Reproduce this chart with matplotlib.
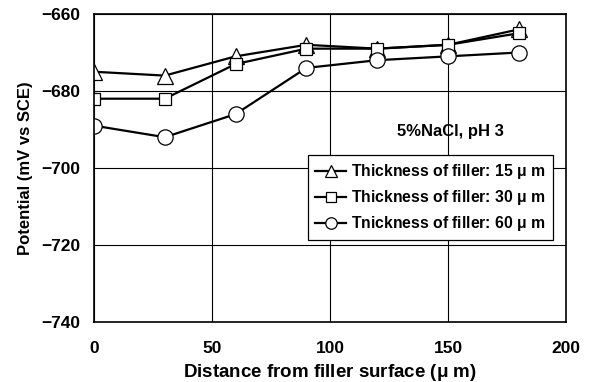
import matplotlib
matplotlib.use('Agg')
import matplotlib.pyplot as plt

distance = [0, 30, 60, 90, 120, 150, 180]
pot_15 = [-675, -676, -671, -668, -669, -668, -664]
pot_30 = [-682, -682, -673, -669, -669, -668, -665]
pot_60 = [-689, -692, -686, -674, -672, -671, -670]
labels = ['Thickness of filler: 15 $\\mu$ m',
          'Thickness of filler: 30 $\\mu$ m',
          'Tnickness of filler: 60 $\\mu$ m']

plt.rcParams['font.family'] = ['Liberation Sans', 'DejaVu Sans']
plt.rcParams['font.weight'] = 'bold'
plt.rcParams['axes.labelweight'] = 'bold'
plt.rcParams['mathtext.default'] = 'regular'

fig = plt.figure(figsize=(5.91, 3.82), dpi=100)
ax = fig.add_axes([94 / 591, 1 - 322 / 382, 472 / 591, 308 / 382])

ax.plot(distance, pot_15, marker='^', color='black', lw=1.6, ms=11, mfc='white', mec='black', mew=0.9, label=labels[0])
ax.plot(distance, pot_30, marker='s', color='black', lw=1.6, ms=9, mfc='white', mec='black', mew=0.9, label=labels[1])
ax.plot(distance, pot_60, marker='o', color='black', lw=1.6, ms=11, mfc='white', mec='black', mew=0.9, label=labels[2])

ax.set_xlim(0, 200)
ax.set_ylim(-740, -660)
ax.set_xticks([0, 50, 100, 150, 200])
ax.set_yticks([-740, -720, -700, -680, -660])
ax.set_yticklabels(['\u2212740', '\u2212720', '\u2212700', '\u2212680', '\u2212660'])
ax.tick_params(length=0, labelsize=12.5)
ax.tick_params(axis='y', pad=10)
ax.tick_params(axis='x', pad=14)
ax.grid(True, color='black', lw=0.8)
ax.set_axisbelow(True)
for s in ax.spines.values():
    s.set_linewidth(1.2)

ax.set_xlabel('Distance from filler surface ($\\mu$ m)', fontsize=13.5, labelpad=4)
ax.set_ylabel('Potential (mV vs SCE)', fontsize=12, labelpad=6)

ax.text(0.755, 0.62, '5%NaCl, pH 3', transform=ax.transAxes, fontsize=12, ha='center', va='center')

leg = ax.legend(loc='upper left', bbox_to_anchor=(0.453, 0.542), borderaxespad=0, fontsize=11.3,
                frameon=True, fancybox=False, edgecolor='black', framealpha=1, handlelength=2.0,
                handletextpad=0.3, borderpad=0.45, labelspacing=0.45, markerscale=0.75)
leg.get_frame().set_linewidth(0.9)

plt.savefig('out.png', dpi=100)
